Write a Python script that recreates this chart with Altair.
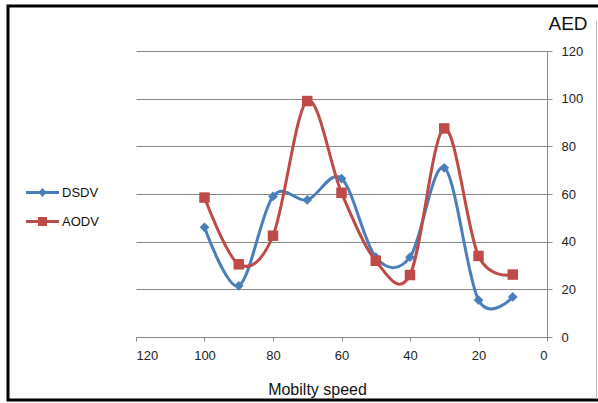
import altair as alt
import pandas as pd

speed = [100, 90, 80, 70, 60, 50, 40, 30, 20, 10]
dsdv = [46, 21.5, 59, 57.5, 66.5, 33.5, 33.5, 71, 15.5, 16.8]
aodv = [58.5, 30.5, 42.5, 99, 60.5, 32, 26, 87.5, 34, 26.2]
series_names = ["DSDV", "AODV"]
colors = ["#4A7EBB", "#BE4B48"]
ticks = [0, 20, 40, 60, 80, 100, 120]

df = pd.DataFrame({
    "speed": speed * 2,
    "value": dsdv + aodv,
    "series": ["DSDV"] * len(speed) + ["AODV"] * len(speed),
})

FONT = "Liberation Sans"

x_enc = alt.X(
    "speed:Q",
    scale=alt.Scale(domain=[0, 120], reverse=True, nice=False),
    axis=alt.Axis(
        values=ticks, grid=False, title="Mobilty speed",
        domainColor="#888888", tickColor="#888888", tickSize=4,
        labelFontSize=13, labelColor="#222222", labelPadding=8, labelFont=FONT,
        titleFontSize=16, titleFont=FONT, titleFontWeight="normal", titleColor="#111111",
        titleX=181, titleY=57, titleBaseline="alphabetic",
    ),
)
y_enc = alt.Y(
    "value:Q",
    scale=alt.Scale(domain=[0, 120], nice=False),
    axis=alt.Axis(
        orient="right", values=ticks, grid=True, gridColor="#888888", gridWidth=1,
        domainColor="#888888", tickColor="#888888", tickSize=5,
        labelFontSize=13, labelColor="#222222", labelPadding=9, labelFont=FONT,
        title="AED", titleAngle=0, titleAlign="left", titleBaseline="alphabetic",
        titleX=1, titleY=-22, titleFontSize=19, titleFont=FONT,
        titleFontWeight="normal", titleColor="#111111",
    ),
)
# data-derived (alphabetical) domain for the mark colours: AODV, DSDV
color_scale = alt.Scale(range=[colors[1], colors[0]])

lines = alt.Chart(df).mark_line(interpolate="cardinal", strokeWidth=3).encode(
    x=x_enc, y=y_enc,
    color=alt.Color("series:N", scale=color_scale, legend=None),
)

pts_d = alt.Chart(df).transform_filter(alt.datum.series == "DSDV").mark_point(
    shape="diamond", filled=True, size=95, opacity=1
).encode(x=x_enc, y=y_enc, color=alt.Color("series:N", scale=color_scale, legend=None))

pts_a = alt.Chart(df).transform_filter(alt.datum.series == "AODV").mark_point(
    shape="square", filled=True, size=110, opacity=1
).encode(x=x_enc, y=y_enc, color=alt.Color("series:N", scale=color_scale, legend=None))

path_d = "M-3.3,-0.3H3.3V0.3H-3.3Z M0,-0.9L0.8,0L0,0.9L-0.8,0Z"
path_a = "M-3.3,-0.3H3.3V0.3H-3.3Z M-0.9,-0.9H0.9V0.9H-0.9Z"

legend_props = dict(
    orient="none", legendX=-100, legendY=135, title=None,
    symbolSize=100, symbolStrokeWidth=0, labelOffset=13,
    labelFontSize=13, labelFont=FONT, labelColor="#111111", rowPadding=15,
)

legend_layer = alt.Chart(df).transform_filter("datum.speed < 0").mark_point(
    filled=True, opacity=1
).encode(
    x=x_enc, y=y_enc,
    fill=alt.Fill("series:N", scale=alt.Scale(domain=series_names, range=colors),
                  legend=alt.Legend(**legend_props)),
    shape=alt.Shape("series:N", scale=alt.Scale(domain=series_names, range=[path_d, path_a]),
                    legend=alt.Legend(**legend_props)),
)

frame = alt.Chart(alt.Data(values=[{}])).mark_rect(
    fillOpacity=0, stroke="#000000", strokeWidth=3
).encode(x=alt.value(-128), x2=alt.value(470), y=alt.value(-45), y2=alt.value(349))

right_edge = alt.Chart(alt.Data(values=[{}])).mark_rule(
    color="#bbbbbb", strokeWidth=1
).encode(x=alt.value(460.5), y=alt.value(-30), y2=alt.value(348))

chart = alt.layer(frame, right_edge, lines, pts_d, pts_a, legend_layer).properties(
    width=411, height=286,
    autosize=alt.AutoSizeParams(type="none"),
    padding={"left": 136, "top": 51, "right": 51, "bottom": 66},
    background="white",
).configure_view(stroke=None)

chart.save("out.html", embed_options={"renderer": "svg", "actions": False})
